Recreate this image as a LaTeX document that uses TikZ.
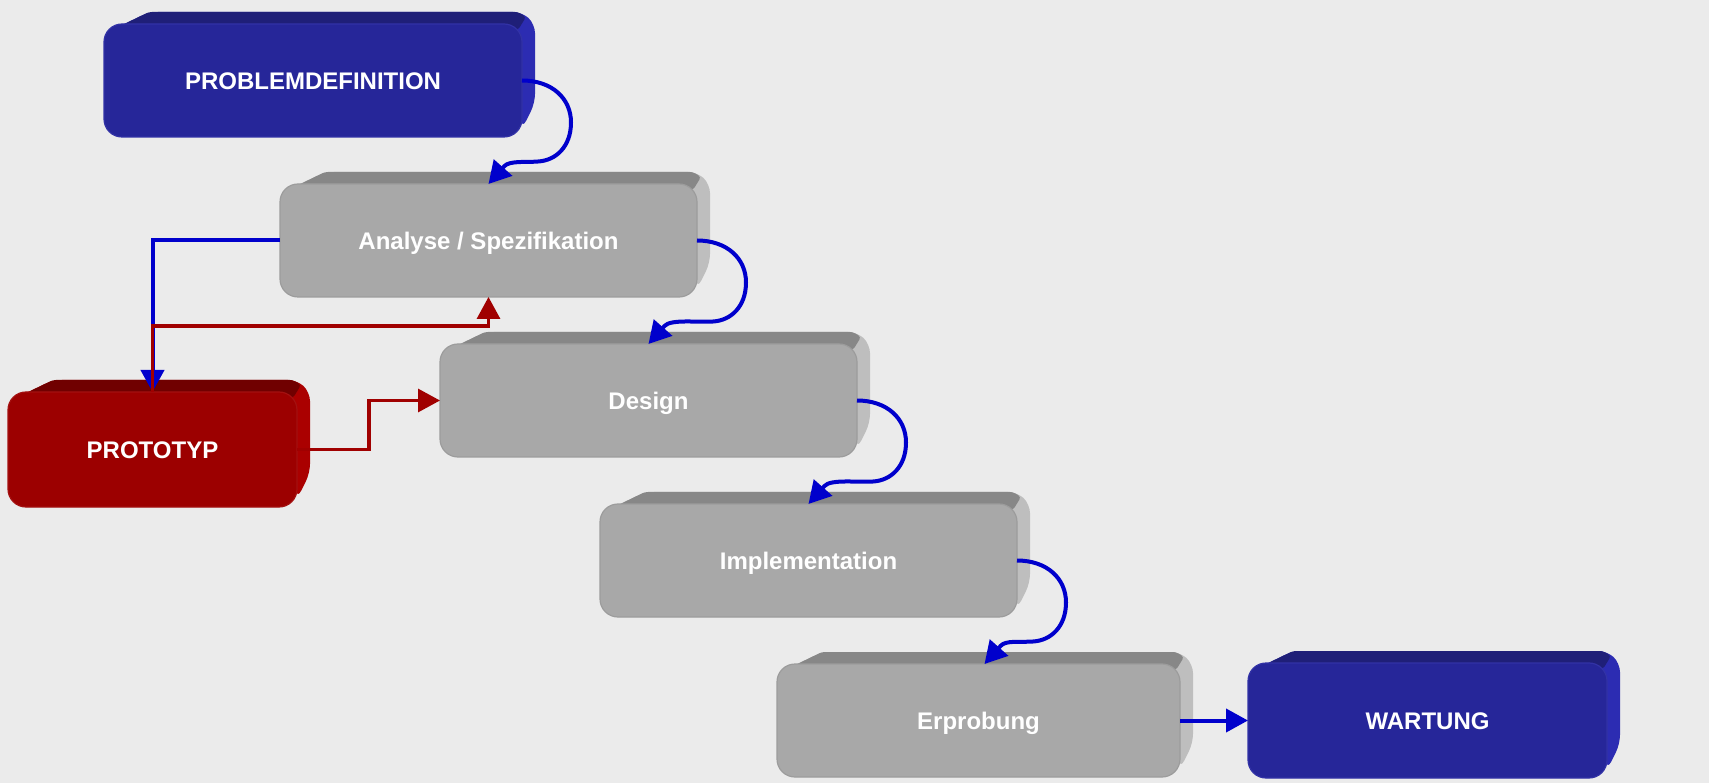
\documentclass[tikz,border=0pt]{standalone}
\usepackage{fontspec}
\setmainfont{Liberation Sans}
\usetikzlibrary{arrows.meta,calc}
\definecolor{bgc}{HTML}{EBEBEB}
\definecolor{grayfront}{HTML}{A8A8A8}
\definecolor{graytop}{HTML}{878787}
\definecolor{grayside}{HTML}{BEBEBE}
\definecolor{grayedge}{HTML}{9C9C9C}
\definecolor{bluefront}{HTML}{262699}
\definecolor{bluetop}{HTML}{1F1F78}
\definecolor{blueside}{HTML}{2C2CB2}
\definecolor{blueedge}{HTML}{3232A6}
\definecolor{redfront}{HTML}{9C0000}
\definecolor{redtop}{HTML}{700000}
\definecolor{redside}{HTML}{AA0000}
\definecolor{rededge}{HTML}{A31010}
\definecolor{arrblue}{HTML}{0000CC}
\definecolor{arrred}{HTML}{A00000}
\tikzset{
  blockbox/.style={rectangle, rounded corners=18pt, inner sep=0pt, outer sep=0pt,
    text=white, font=\bfseries\fontsize{24}{28}\selectfont,
    text height=17.2pt, text depth=0pt, line width=1.2pt},
  blueconn/.style={draw=arrblue, line width=4pt, -{Triangle[length=22pt,width=23pt]}},
  redconn/.style={draw=arrred, line width=3.3pt, -{Triangle[length=22pt,width=23pt]}},
  bluecurve/.style={draw=arrblue, line width=4pt, -{Triangle[length=22pt,width=24pt]}}
}
% #1 name, #2 x0, #3 y0, #4 x1, #5 y1, #6 colour prefix, #7 text
\newcommand\drawblock[7]{%
  \fill[#6side, rounded corners=9pt] ({#2+12},{#3+4}) -- ({#2+45},{#3-12}) -- ({#4},{#3-12})
     -- ({#4+13},{#3}) -- ({#4+13},{#5-34}) -- ({#4},{#5-8}) -- ({#4-10},{#3+4}) -- cycle;
  \fill[#6top, rounded corners=3pt] ({#2+12},{#3+4}) -- ({#2+45},{#3-12}) -- ({#4-4},{#3-12})
     -- ({#4+4},{#3-7}) -- ({#4-4},{#3+6}) -- cycle;
  \node[blockbox, fill=#6front, draw=#6edge, minimum width={#4-#2}, minimum height={#5-#3}]
     (#1) at ({(#2+#4)/2},{(#3+#5)/2}) {#7};
}
\begin{document}
\begin{tikzpicture}[x=1pt,y=-1pt]
\useasboundingbox (0,0) rectangle (1709,783);
\fill[bgc] (0,0) rectangle (1709,783);

\drawblock{pd}{104}{24}{522}{137}{blue}{PROBLEMDEFINITION}
\drawblock{an}{280}{184}{697}{297}{gray}{Analyse / Spezifikation}
\drawblock{de}{440}{344}{857}{457}{gray}{Design}
\drawblock{pt}{8}{392}{297}{507}{red}{PROTOTYP}
\drawblock{im}{600}{504}{1017}{617}{gray}{Implementation}
\drawblock{er}{777}{664}{1180}{777}{gray}{Erprobung}
\drawblock{wa}{1248}{663}{1607}{778}{blue}{WARTUNG}

% curved sequence arrows
\draw[bluecurve] (pd.east) .. controls ($(pd.east)+(30,0)$) and ($(pd.east)+(49,18)$) .. ($(pd.east)+(49,42)$)
   .. controls ($(pd.east)+(49,66)$) and ($(pd.east)+(34,80)$) .. ($(pd.east)+(16,81)$)
   .. controls ($(pd.east)+(5,82)$) and ($(an.north)+(21,-23.5)$) .. ($(an.north)+(16,-18)$) -- (an.north);
\draw[bluecurve] (an.east) .. controls ($(an.east)+(30,0)$) and ($(an.east)+(49,18)$) .. ($(an.east)+(49,42)$)
   .. controls ($(an.east)+(49,66)$) and ($(an.east)+(34,80)$) .. ($(an.east)+(16,81)$)
   .. controls ($(an.east)+(0,82)$) and ($(de.north)+(22,-25)$) .. ($(de.north)+(16,-18)$) -- (de.north);
\draw[bluecurve] (de.east) .. controls ($(de.east)+(30,0)$) and ($(de.east)+(49,18)$) .. ($(de.east)+(49,42)$)
   .. controls ($(de.east)+(49,66)$) and ($(de.east)+(34,80)$) .. ($(de.east)+(16,81)$)
   .. controls ($(de.east)+(0,82)$) and ($(im.north)+(22,-25)$) .. ($(im.north)+(16,-18)$) -- (im.north);
\draw[bluecurve] (im.east) .. controls ($(im.east)+(30,0)$) and ($(im.east)+(49,18)$) .. ($(im.east)+(49,42)$)
   .. controls ($(im.east)+(49,66)$) and ($(im.east)+(34,80)$) .. ($(im.east)+(16,81)$)
   .. controls ($(im.east)+(3,82)$) and ($(er.north)+(27,-24)$) .. ($(er.north)+(22,-18)$) -- ($(er.north)+(6,0)$);

% feedback via prototype
\coordinate (rj) at (152.5,326);
\coordinate (rk) at (369,425);
\draw[blueconn] (an.west) -| (pt.north);
\draw[redconn] (pt.north) -- (rj) -| (an.south);
\draw[redconn] (pt.east) -| (rk) |- (de.west);

% to maintenance
\draw[blueconn] (er.east) -- (wa.west);
\end{tikzpicture}
\end{document}
